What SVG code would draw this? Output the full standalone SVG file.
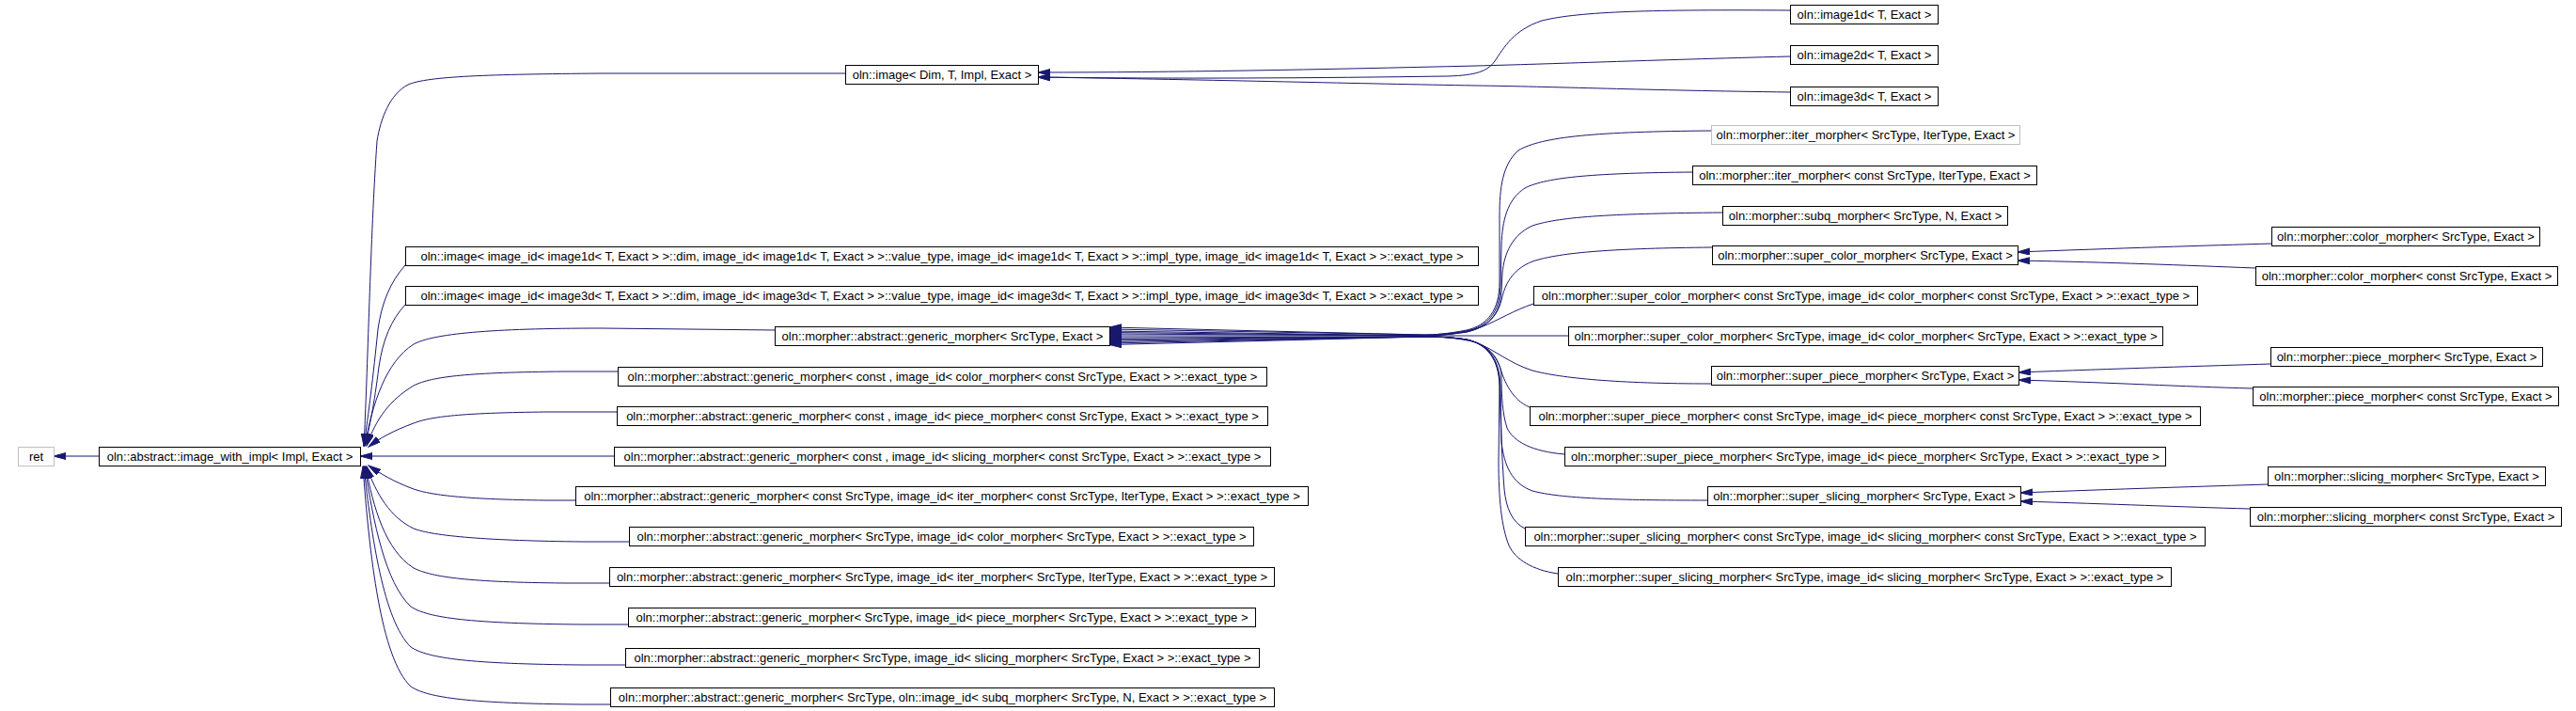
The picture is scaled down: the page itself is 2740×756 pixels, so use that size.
<svg xmlns="http://www.w3.org/2000/svg" width="2740" height="756" viewBox="0 0 2740 756">
<style>
.n rect{fill:#ffffff;stroke:#000000;stroke-width:1}
.g rect{fill:#ffffff;stroke:#bfbfbf;stroke-width:1}
text{font-family:"Liberation Sans",Arial,Helvetica,sans-serif;font-size:13px;fill:#000000;text-anchor:middle}
.e path{fill:none;stroke:#191970;stroke-width:1;marker-end:url(#a)}
</style>
<defs>
<marker id="a" markerWidth="14" markerHeight="8" refX="13" refY="3.5" orient="auto" markerUnits="userSpaceOnUse"><path d="M0,0 L13,3.5 L0,7 z" fill="#191970" stroke="#191970" stroke-width="1"/></marker>
</defs>
<rect width="2740" height="756" fill="#ffffff"/>
<g class="e" id="connectors">
<path d="M105,485 L57,485"/>
<path d="M899,78 L640,78 C520,79 455,81 434,90 C415,100 405,125 401,150 C394,250 391,400 387,474"/>
<path d="M431,282 C415,300 406,322 402,350 C397,400 392,440 387,474"/>
<path d="M431,324 C416,340 407,362 403,390 C398,430 393,455 388,474"/>
<path d="M824,351 L640,349 C520,349 460,355 440,366 C410,385 396,430 388,474"/>
<path d="M657,395 L600,395 C500,396 460,400 440,410 C415,425 400,445 390,474"/>
<path d="M656,438 L580,438 C500,439 460,442 440,450 C418,458 404,466 392,475"/>
<path d="M653,485 L383,485"/>
<path d="M612,532 L580,532 C500,531 460,527 440,520 C418,512 404,503 392,495"/>
<path d="M669,576 L620,576 C520,575 460,570 440,562 C415,550 400,525 390,496"/>
<path d="M648,620 L600,620 C500,619 460,614 440,604 C410,585 397,540 389,496"/>
<path d="M668,664 L620,664 C500,663 455,657 437,645 C410,620 397,555 388,496"/>
<path d="M665,707 L620,707 C500,706 455,700 437,688 C408,660 395,570 387,496"/>
<path d="M649,749 L620,749 C500,748 455,742 437,730 C405,700 393,590 386,496"/>
<path d="M1904,11 C1760,10 1680,12 1640,22 C1610,32 1600,50 1590,65 C1582,76 1570,80 1540,81 C1400,83 1250,84 1104,82"/>
<path d="M1904,60 C1750,64 1650,68 1570,70 C1400,74 1250,77 1104,77"/>
<path d="M1904,98 C1750,96 1650,92 1570,91 C1450,89 1300,85 1104,82"/>
<path d="M1820,139 C1700,140 1640,145 1615,160 C1598,175 1595,200 1595,230 L1595,300 C1595,330 1582,346 1560,351 C1540,355 1525,356 1515,356 L1180,348"/>
<path d="M1800,183 C1700,184 1645,188 1622,200 C1603,212 1598,235 1597,260 L1596,305 C1595,333 1582,347 1560,352 C1540,355 1525,356 1515,356 L1180,350"/>
<path d="M1832,226 C1720,227 1660,230 1630,240 C1608,250 1600,270 1598,290 L1597,310 C1595,336 1582,348 1560,353 C1540,356 1525,357 1515,357 L1180,352"/>
<path d="M1821,263 C1720,264 1660,268 1630,278 C1610,286 1602,300 1598,315 C1594,336 1582,348 1560,353 C1540,356 1525,357 1515,357 L1180,353.5"/>
<path d="M1631,323 C1610,330 1595,340 1575,348 C1555,354 1535,357 1515,357 L1180,355"/>
<path d="M1668,357 L1180,357"/>
<path d="M1820,408 C1720,408 1660,402 1630,394 C1605,386 1590,372 1570,364 C1550,359 1530,358 1515,358 L1180,359"/>
<path d="M1627,433 C1608,425 1600,405 1596,392 C1590,375 1580,366 1560,361 C1540,358 1525,358 1515,358 L1180,360.5"/>
<path d="M1664,483 C1630,480 1610,470 1603,455 C1598,440 1597,420 1597,400 C1596,380 1582,366 1560,361 C1540,358 1525,358 1515,358 L1180,362"/>
<path d="M1816,532 C1720,532 1660,530 1630,522 C1608,514 1600,495 1597,470 L1596,410 C1595,382 1582,366 1560,361 C1540,358 1525,358 1515,358 L1180,363.5"/>
<path d="M1622,562 C1608,555 1602,540 1600,520 C1597,480 1596,440 1595,405 C1594,380 1582,366 1560,361 C1540,358 1525,358 1515,358 L1180,365"/>
<path d="M1657,610 C1630,606 1612,595 1605,580 C1597,560 1594,530 1594,490 L1595,410 C1594,382 1582,366 1560,361 C1540,358 1525,358 1515,358 L1180,366.5"/>
<path d="M2416,259 C2350,261 2250,264 2146,268"/>
<path d="M2399,285 C2320,282 2250,279 2146,277"/>
<path d="M2415,387 C2350,389 2250,392 2147,396"/>
<path d="M2396,413 C2320,411 2250,407 2147,404"/>
<path d="M2412,515 C2350,517 2250,520 2149,524"/>
<path d="M2393,541 C2320,539 2250,536 2149,533"/>
</g>
<g id="ret" class="g"><rect x="19.5" y="475.5" width="38" height="20"/><text x="38.5" y="490">ret</text></g>
<g id="image_with_impl" class="n"><rect x="105.5" y="475.5" width="278" height="20"/><text x="244.5" y="490">oln::abstract::image_with_impl&lt; Impl, Exact &gt;</text></g>
<g id="image" class="n"><rect x="899.5" y="69.5" width="205" height="20"/><text x="1002" y="84">oln::image&lt; Dim, T, Impl, Exact &gt;</text></g>
<g id="image1d" class="n"><rect x="1904.5" y="5.5" width="157" height="20"/><text x="1983" y="20">oln::image1d&lt; T, Exact &gt;</text></g>
<g id="image2d" class="n"><rect x="1904.5" y="48.5" width="157" height="20"/><text x="1983" y="63">oln::image2d&lt; T, Exact &gt;</text></g>
<g id="image3d" class="n"><rect x="1904.5" y="92.5" width="157" height="20"/><text x="1983" y="107">oln::image3d&lt; T, Exact &gt;</text></g>
<g id="image_image1d" class="n"><rect x="431.5" y="262.5" width="1141" height="20"/><text x="1002" y="277">oln::image&lt; image_id&lt; image1d&lt; T, Exact &gt; &gt;::dim, image_id&lt; image1d&lt; T, Exact &gt; &gt;::value_type, image_id&lt; image1d&lt; T, Exact &gt; &gt;::impl_type, image_id&lt; image1d&lt; T, Exact &gt; &gt;::exact_type &gt;</text></g>
<g id="image_image3d" class="n"><rect x="431.5" y="304.5" width="1141" height="20"/><text x="1002" y="319">oln::image&lt; image_id&lt; image3d&lt; T, Exact &gt; &gt;::dim, image_id&lt; image3d&lt; T, Exact &gt; &gt;::value_type, image_id&lt; image3d&lt; T, Exact &gt; &gt;::impl_type, image_id&lt; image3d&lt; T, Exact &gt; &gt;::exact_type &gt;</text></g>
<g id="generic_morpher" class="n"><rect x="824.5" y="347.5" width="356" height="20"/><text x="1002.5" y="362">oln::morpher::abstract::generic_morpher&lt; SrcType, Exact &gt;</text></g>
<g id="gm_const_color" class="n"><rect x="657.5" y="390.5" width="690" height="20"/><text x="1002.5" y="405">oln::morpher::abstract::generic_morpher&lt; const , image_id&lt; color_morpher&lt; const SrcType, Exact &gt; &gt;::exact_type &gt;</text></g>
<g id="gm_const_piece" class="n"><rect x="656.5" y="432.5" width="692" height="20"/><text x="1002.5" y="447">oln::morpher::abstract::generic_morpher&lt; const , image_id&lt; piece_morpher&lt; const SrcType, Exact &gt; &gt;::exact_type &gt;</text></g>
<g id="gm_const_slicing" class="n"><rect x="653.5" y="475.5" width="698" height="20"/><text x="1002.5" y="490">oln::morpher::abstract::generic_morpher&lt; const , image_id&lt; slicing_morpher&lt; const SrcType, Exact &gt; &gt;::exact_type &gt;</text></g>
<g id="gm_const_iter" class="n"><rect x="612.5" y="517.5" width="779" height="20"/><text x="1002" y="532">oln::morpher::abstract::generic_morpher&lt; const SrcType, image_id&lt; iter_morpher&lt; const SrcType, IterType, Exact &gt; &gt;::exact_type &gt;</text></g>
<g id="gm_color" class="n"><rect x="669.5" y="560.5" width="664" height="20"/><text x="1001.5" y="575">oln::morpher::abstract::generic_morpher&lt; SrcType, image_id&lt; color_morpher&lt; SrcType, Exact &gt; &gt;::exact_type &gt;</text></g>
<g id="gm_iter" class="n"><rect x="648.5" y="603.5" width="707" height="20"/><text x="1002" y="618">oln::morpher::abstract::generic_morpher&lt; SrcType, image_id&lt; iter_morpher&lt; SrcType, IterType, Exact &gt; &gt;::exact_type &gt;</text></g>
<g id="gm_piece" class="n"><rect x="668.5" y="646.5" width="667" height="20"/><text x="1002" y="661">oln::morpher::abstract::generic_morpher&lt; SrcType, image_id&lt; piece_morpher&lt; SrcType, Exact &gt; &gt;::exact_type &gt;</text></g>
<g id="gm_slicing" class="n"><rect x="665.5" y="689.5" width="674" height="20"/><text x="1002.5" y="704">oln::morpher::abstract::generic_morpher&lt; SrcType, image_id&lt; slicing_morpher&lt; SrcType, Exact &gt; &gt;::exact_type &gt;</text></g>
<g id="gm_subq" class="n"><rect x="649.5" y="731.5" width="706" height="20"/><text x="1002.5" y="746">oln::morpher::abstract::generic_morpher&lt; SrcType, oln::image_id&lt; subq_morpher&lt; SrcType, N, Exact &gt; &gt;::exact_type &gt;</text></g>
<g id="iter_morpher" class="g"><rect x="1820.5" y="133.5" width="328" height="20"/><text x="1984.5" y="148">oln::morpher::iter_morpher&lt; SrcType, IterType, Exact &gt;</text></g>
<g id="iter_morpher_const" class="n"><rect x="1800.5" y="176.5" width="366" height="20"/><text x="1983.5" y="191">oln::morpher::iter_morpher&lt; const SrcType, IterType, Exact &gt;</text></g>
<g id="subq_morpher" class="n"><rect x="1832.5" y="219.5" width="303" height="20"/><text x="1984" y="234">oln::morpher::subq_morpher&lt; SrcType, N, Exact &gt;</text></g>
<g id="super_color" class="n"><rect x="1821.5" y="261.5" width="325" height="20"/><text x="1984" y="276">oln::morpher::super_color_morpher&lt; SrcType, Exact &gt;</text></g>
<g id="super_color_const" class="n"><rect x="1631.5" y="304.5" width="706" height="20"/><text x="1984.5" y="319">oln::morpher::super_color_morpher&lt; const SrcType, image_id&lt; color_morpher&lt; const SrcType, Exact &gt; &gt;::exact_type &gt;</text></g>
<g id="super_color_id" class="n"><rect x="1668.5" y="347.5" width="632" height="20"/><text x="1984.5" y="362">oln::morpher::super_color_morpher&lt; SrcType, image_id&lt; color_morpher&lt; SrcType, Exact &gt; &gt;::exact_type &gt;</text></g>
<g id="super_piece" class="n"><rect x="1820.5" y="389.5" width="327" height="20"/><text x="1984" y="404">oln::morpher::super_piece_morpher&lt; SrcType, Exact &gt;</text></g>
<g id="super_piece_const" class="n"><rect x="1627.5" y="432.5" width="713" height="20"/><text x="1984" y="447">oln::morpher::super_piece_morpher&lt; const SrcType, image_id&lt; piece_morpher&lt; const SrcType, Exact &gt; &gt;::exact_type &gt;</text></g>
<g id="super_piece_id" class="n"><rect x="1664.5" y="475.5" width="639" height="20"/><text x="1984" y="490">oln::morpher::super_piece_morpher&lt; SrcType, image_id&lt; piece_morpher&lt; SrcType, Exact &gt; &gt;::exact_type &gt;</text></g>
<g id="super_slicing" class="n"><rect x="1816.5" y="517.5" width="333" height="20"/><text x="1983" y="532">oln::morpher::super_slicing_morpher&lt; SrcType, Exact &gt;</text></g>
<g id="super_slicing_const" class="n"><rect x="1622.5" y="560.5" width="723" height="20"/><text x="1984" y="575">oln::morpher::super_slicing_morpher&lt; const SrcType, image_id&lt; slicing_morpher&lt; const SrcType, Exact &gt; &gt;::exact_type &gt;</text></g>
<g id="super_slicing_id" class="n"><rect x="1657.5" y="603.5" width="652" height="20"/><text x="1983.5" y="618">oln::morpher::super_slicing_morpher&lt; SrcType, image_id&lt; slicing_morpher&lt; SrcType, Exact &gt; &gt;::exact_type &gt;</text></g>
<g id="color_morpher" class="n"><rect x="2416.5" y="241.5" width="285" height="20"/><text x="2559" y="256">oln::morpher::color_morpher&lt; SrcType, Exact &gt;</text></g>
<g id="color_morpher_const" class="n"><rect x="2399.5" y="283.5" width="321" height="20"/><text x="2560" y="298">oln::morpher::color_morpher&lt; const SrcType, Exact &gt;</text></g>
<g id="piece_morpher" class="n"><rect x="2415.5" y="369.5" width="289" height="20"/><text x="2560" y="384">oln::morpher::piece_morpher&lt; SrcType, Exact &gt;</text></g>
<g id="piece_morpher_const" class="n"><rect x="2396.5" y="411.5" width="325" height="20"/><text x="2559" y="426">oln::morpher::piece_morpher&lt; const SrcType, Exact &gt;</text></g>
<g id="slicing_morpher" class="n"><rect x="2412.5" y="496.5" width="295" height="20"/><text x="2560" y="511">oln::morpher::slicing_morpher&lt; SrcType, Exact &gt;</text></g>
<g id="slicing_morpher_const" class="n"><rect x="2393.5" y="539.5" width="331" height="20"/><text x="2559" y="554">oln::morpher::slicing_morpher&lt; const SrcType, Exact &gt;</text></g>
</svg>
